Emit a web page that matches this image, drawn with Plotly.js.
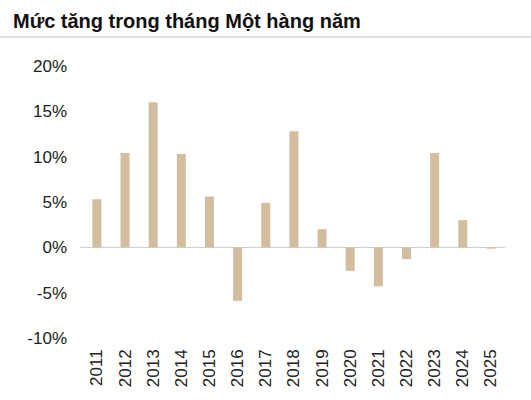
<!DOCTYPE html>
<html>
<head>
<meta charset="utf-8">
<script src="https://cdn.plot.ly/plotly-3.0.1.min.js"></script>
<style>html,body{margin:0;padding:0;background:#fff;}#chart{width:531px;height:400px;}</style>
</head>
<body>
<div id="chart"></div>
<script>
const years = ["2011","2012","2013","2014","2015","2016","2017","2018","2019","2020","2021","2022","2023","2024","2025"];
const janGain = [5.3, 10.4, 16.0, 10.3, 5.6, -5.9, 4.9, 12.8, 2.0, -2.6, -4.3, -1.3, 10.4, 3.0, -0.15];
const yTickVals = [-10, -5, 0, 5, 10, 15, 20];
const yTickText = ["-10%", "-5%", "0%", "5%", "10%", "15%", "20%"];

const trace = {
  type: 'bar',
  x: years,
  y: janGain,
  marker: {color: '#d3bd9f'},
  hoverinfo: 'none'
};

const layout = {
  width: 531, height: 400,
  margin: {l: 80, r: 26, t: 66, b: 62},
  paper_bgcolor: '#fff', plot_bgcolor: '#fff',
  bargap: 0.68,
  showlegend: false,
  title: {
    text: 'Mức tăng trong tháng Một hàng năm',
    font: {family: 'Liberation Sans, Arial, sans-serif', size: 20, color: '#111', weight: 600},
    x: 13/531, xref: 'container', xanchor: 'left',
    y: 1 - 21/400, yref: 'container', yanchor: 'middle'
  },
  xaxis: {
    type: 'category',
    range: [-0.6, 14.5],
    tickangle: -90,
    showgrid: false, zeroline: false, showline: false,
    ticks: '', ticklabelstandoff: 7,
    tickfont: {family: 'Liberation Sans, Arial, sans-serif', size: 17, color: '#222'}
  },
  yaxis: {
    range: [-10, 20],
    tickvals: yTickVals, ticktext: yTickText,
    showgrid: false, showline: false,
    zeroline: true, zerolinecolor: '#d0d0d0', zerolinewidth: 1,
    ticks: '', ticklabelstandoff: 12,
    tickfont: {family: 'Liberation Sans, Arial, sans-serif', size: 17, color: '#222'}
  },
  shapes: [{
    type: 'line', xref: 'paper', yref: 'paper',
    xsizemode: 'pixel', ysizemode: 'pixel',
    xanchor: 0, yanchor: 1,
    x0: -80, x1: 451, y0: 29, y1: 29,
    line: {color: '#c4c4c4', width: 1}
  }]
};

Plotly.newPlot('chart', [trace], layout, {staticPlot: true, displayModeBar: false});
</script>
</body>
</html>
